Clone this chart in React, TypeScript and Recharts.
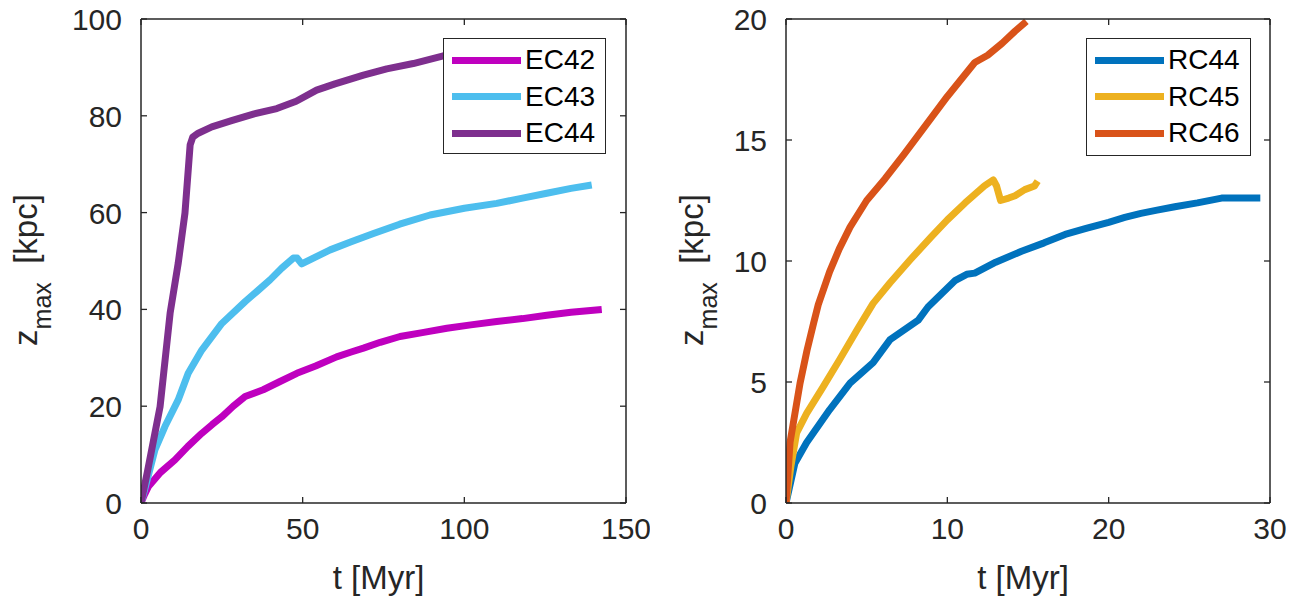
import React from 'react';
import { LineChart, Line, XAxis, YAxis, Legend } from 'recharts';

// panel (a): EC runs, t [Myr] vs z_max [kpc]
const ec42T = [0, 1, 2.3, 6, 10.5, 14.5, 18.8, 22, 25, 28.5, 32.2, 37.8, 43, 48.2, 54, 60.5, 65, 68.8, 74, 80.1, 87, 94.6, 102, 110, 118, 125.5, 133, 142.5];
const ec42Z = [0, 1.6, 3.4, 6.3, 8.9, 11.7, 14.4, 16.2, 17.8, 20, 22, 23.4, 25.1, 26.8, 28.3, 30.2, 31.2, 32, 33.2, 34.4, 35.2, 36.1, 36.8, 37.5, 38.1, 38.8, 39.4, 40];

const ec43T = [0, 2, 4.3, 7.4, 11.5, 14.6, 18.8, 25, 32.2, 36, 39.9, 43.5, 47.1, 48.3, 49.7, 53, 58.5, 65, 71.9, 80, 89.4, 100, 110, 118, 125.5, 133, 139.4];
const ec43Z = [0, 5, 11, 15.8, 21.3, 26.8, 31.6, 37.1, 41.6, 43.8, 46.1, 48.5, 50.6, 50.6, 49.4, 50.5, 52.3, 54, 55.7, 57.6, 59.5, 60.9, 61.9, 63, 64, 65, 65.7];

const ec44T = [0, 2, 5.9, 9, 11.5, 13.6, 15.2, 16, 17.7, 21.9, 28, 35, 42, 48, 54.3, 60, 68.8, 76, 84.2, 93.5, 105, 120, 140];
const ec44Z = [0, 6.5, 19.9, 39.2, 49.5, 59.9, 74, 75.6, 76.4, 77.7, 79, 80.4, 81.5, 83, 85.3, 86.6, 88.4, 89.7, 90.8, 92.4, 93.4, 94.1, 94.6];

// panel (b): RC runs
const rc44T = [0, 0.55, 1.28, 2.7, 3.97, 5.4, 6.45, 8.2, 8.8, 10.5, 11.2, 11.7, 13, 14.6, 16, 17.3, 18.6, 20, 21, 22, 23, 24.1, 25.5, 27, 28, 29.4];
const rc44Z = [0, 1.64, 2.5, 3.85, 4.95, 5.8, 6.75, 7.56, 8.1, 9.2, 9.45, 9.5, 9.95, 10.4, 10.75, 11.1, 11.35, 11.6, 11.8, 11.97, 12.1, 12.24, 12.4, 12.6, 12.6, 12.6];

const rc45T = [0, 0.3, 0.66, 1.28, 2.3, 3.3, 4.4, 5.4, 6.45, 7.7, 9.0, 10, 11.1, 11.7, 12.3, 12.85, 13.05, 13.3, 13.8, 14.2, 14.8, 15.4, 15.6];
const rc45Z = [0, 1.5, 2.9, 3.7, 4.8, 5.9, 7.15, 8.25, 9.1, 10.05, 11.0, 11.7, 12.4, 12.75, 13.1, 13.35, 13.1, 12.5, 12.6, 12.7, 12.95, 13.1, 13.3];

const rc46T = [0, 0.25, 0.87, 1.3, 1.7, 2.0, 2.7, 3.3, 3.97, 5.0, 6.14, 7.3, 8.6, 10, 11.7, 12.5, 13.4, 14.2, 14.9];
const rc46Z = [0, 2.5, 4.95, 6.3, 7.4, 8.2, 9.55, 10.5, 11.4, 12.5, 13.4, 14.4, 15.55, 16.8, 18.2, 18.5, 19.0, 19.5, 19.9];

const leftXTicks = [0, 50, 100, 150];
const leftYTicks = [0, 20, 40, 60, 80, 100];
const rightXTicks = [0, 10, 20, 30];
const rightYTicks = [0, 5, 10, 15, 20];

const AXIS = '#262626';
const FONT = '"Liberation Sans", Arial, Helvetica, sans-serif';
const LW = 7;

const toRows = (t: number[], z: number[]) => t.map((v, i) => ({ t: v, z: z[i] }));

// ticks point inward, MATLAB style
function BottomTick({ x, y, payload }: any) {
    return (
        <g>
            <line x1={x} y1={y} x2={x} y2={y - 6} stroke={AXIS} strokeWidth={1.3} />
            <text x={x} y={y + 36} textAnchor="middle" fontSize={30} fontFamily={FONT} fill={AXIS}>{payload.value}</text>
        </g>
    );
}
function TopTick({ x, y }: any) {
    return <line x1={x} y1={y} x2={x} y2={y + 6} stroke={AXIS} strokeWidth={1.3} />;
}
function LeftTick({ x, y, payload }: any) {
    return (
        <g>
            <line x1={x} y1={y} x2={x + 6} y2={y} stroke={AXIS} strokeWidth={1.3} />
            <text x={x - 19} y={y + 11} textAnchor="end" fontSize={30} fontFamily={FONT} fill={AXIS}>{payload.value}</text>
        </g>
    );
}
function RightTick({ x, y }: any) {
    return <line x1={x} y1={y} x2={x - 6} y2={y} stroke={AXIS} strokeWidth={1.3} />;
}

function ZLabel({ viewBox, gap }: any) {
    const cx = viewBox.x + viewBox.width - gap;
    const cy = viewBox.y + viewBox.height / 2 + 9;
    return (
        <text transform={`translate(${cx},${cy}) rotate(-90)`} textAnchor="middle" fontSize={33} fontFamily={FONT} fill={AXIS}>
            z<tspan fontSize={25} dy={14}>max</tspan>
            <tspan dy={-14}>{'\u00a0\u00a0[kpc]'}</tspan>
        </text>
    );
}
function TLabel({ viewBox }: any) {
    return (
        <text x={viewBox.x + viewBox.width / 2 - 5} y={viewBox.y + 86} textAnchor="middle" fontSize={33} fontFamily={FONT} fill={AXIS}>
            t [Myr]
        </text>
    );
}

function LegendBox({ payload, width, height }: any) {
    return (
        <div style={{ width, height, boxSizing: 'border-box', border: `1.5px solid ${AXIS}`, background: '#fff', position: 'relative' }}>
            {(payload || []).map((p: any, i: number) => (
                <div key={p.value} style={{ position: 'absolute', left: 8, top: 3 + i * 36.5, height: 36, display: 'flex', alignItems: 'center' }}>
                    <div style={{ width: 69, height: 7, background: p.color }} />
                    <span style={{ marginLeft: 4, fontSize: 28, lineHeight: '36px', fontFamily: FONT, color: '#000' }}>{p.value}</span>
                </div>
            ))}
        </div>
    );
}

interface Series { name: string; color: string; rows: { t: number; z: number }[] }

// axes need a size of at least 1px or recharts skips drawing them
function Panel({ width, margin, xMax, yMax, xTicks, yTicks, series, labelGap, legendPos }: {
    width: number; margin: any; xMax: number; yMax: number; xTicks: number[]; yTicks: number[];
    series: Series[]; labelGap: number; legendPos: { left: number; top: number; width: number; height: number };
}) {
    const line = { stroke: AXIS, strokeWidth: 1.5 };
    return (
        <LineChart width={width} height={597} margin={margin}>
            <XAxis dataKey="t" type="number" domain={[0, xMax]} ticks={xTicks} interval={0} allowDataOverflow
                height={1} tickSize={0} tickMargin={0} axisLine={line} tickLine={false}
                tick={(p: any) => <BottomTick {...p} />} label={(p: any) => <TLabel {...p} />} />
            <XAxis xAxisId="top" orientation="top" dataKey="t" type="number" domain={[0, xMax]} ticks={xTicks} interval={0} allowDataOverflow
                height={1} tickSize={0} tickMargin={0} axisLine={line} tickLine={false}
                tick={(p: any) => <TopTick {...p} />} />
            <YAxis type="number" domain={[0, yMax]} ticks={yTicks} interval={0} allowDataOverflow
                width={1} tickSize={0} tickMargin={0} axisLine={line} tickLine={false}
                tick={(p: any) => <LeftTick {...p} />} label={(p: any) => <ZLabel {...p} gap={labelGap} />} />
            <YAxis yAxisId="right" orientation="right" type="number" domain={[0, yMax]} ticks={yTicks} interval={0} allowDataOverflow
                width={1} tickSize={0} tickMargin={0} axisLine={line} tickLine={false}
                tick={(p: any) => <RightTick {...p} />} />
            {series.map((s) => (
                <Line key={s.name} data={s.rows} dataKey="z" name={s.name} type="linear" stroke={s.color}
                    strokeWidth={LW} strokeLinejoin="round" dot={false} activeDot={false} isAnimationActive={false} />
            ))}
            <Legend layout="vertical" align="center" verticalAlign="middle"
                wrapperStyle={{ left: legendPos.left, top: legendPos.top, width: legendPos.width, height: legendPos.height }}
                content={(p: any) => <LegendBox {...p} width={legendPos.width} height={legendPos.height} />} />
        </LineChart>
    );
}

const leftSeries: Series[] = [
    { name: 'EC42', color: '#BF00BF', rows: toRows(ec42T, ec42Z) },
    { name: 'EC43', color: '#4DBEEE', rows: toRows(ec43T, ec43Z) },
    { name: 'EC44', color: '#7E2F8E', rows: toRows(ec44T, ec44Z) },
];
const rightSeries: Series[] = [
    { name: 'RC44', color: '#0072BD', rows: toRows(rc44T, rc44Z) },
    { name: 'RC45', color: '#EDB120', rows: toRows(rc45T, rc45Z) },
    { name: 'RC46', color: '#D95319', rows: toRows(rc46T, rc46Z) },
];

export default function App() {
    return (
        <div style={{ position: 'absolute', left: 0, top: 0, width: 1295, height: 597, background: '#fff' }}>
            <div style={{ position: 'absolute', left: 0, top: 0 }}>
                <Panel width={650} margin={{ top: 18, right: 23, bottom: 93, left: 140 }} xMax={150} yMax={100}
                    xTicks={leftXTicks} yTicks={leftYTicks} series={leftSeries} labelGap={104}
                    legendPos={{ left: 443, top: 38, width: 163, height: 116 }} />
            </div>
            <div style={{ position: 'absolute', left: 650, top: 0 }}>
                <Panel width={645} margin={{ top: 18, right: 24, bottom: 93, left: 135 }} xMax={30} yMax={20}
                    xTicks={rightXTicks} yTicks={rightYTicks} series={rightSeries} labelGap={83}
                    legendPos={{ left: 436, top: 38, width: 165, height: 118 }} />
            </div>
        </div>
    );
}
